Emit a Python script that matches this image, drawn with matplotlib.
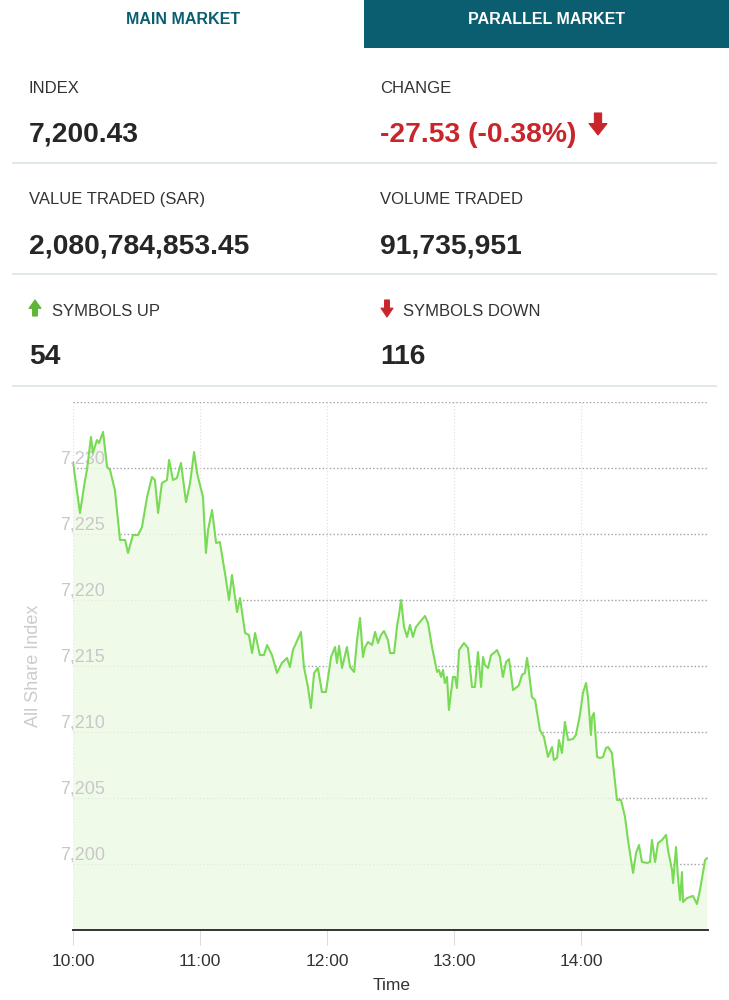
import matplotlib
matplotlib.use("Agg")
import matplotlib.pyplot as plt
from matplotlib.patches import Polygon, Rectangle
from matplotlib.lines import Line2D
import matplotlib.transforms as mtransforms

plt.rcParams['font.family'] = ['Liberation Sans', 'DejaVu Sans']

# ---------------- data ----------------
tabs = ["MAIN MARKET", "PARALLEL MARKET"]
stat_labels = ["INDEX", "CHANGE", "VALUE TRADED (SAR)", "VOLUME TRADED", "SYMBOLS UP", "SYMBOLS DOWN"]
stat_values = ["7,200.43", "-27.53 (-0.38%)", "2,080,784,853.45", "91,735,951", "54", "116"]

# minutes after 10:00
times_min = [0, 3.3, 5.7, 6.6, 8.5, 9.4, 11.3, 12.3, 14.2, 16.1,
             17.5, 19.8, 22.2, 24.6, 26.0, 28.3, 30.7, 32.6, 35.0, 37.3,
             38.7, 40.2, 42.0, 44.4, 45.4, 47.2, 49.1, 51.0, 53.4, 55.3,
             57.2, 58.6, 61.4, 62.8, 63.8, 65.7, 67.6, 69.4, 72.3, 73.7,
             75.1, 77.5, 78.9, 81.3, 83.1, 84.6, 86.0, 88.3, 90.2, 91.7,
             94.0, 96.4, 98.7, 101.1, 102.5, 103.9, 105.4, 107.7, 109.1, 111.0,
             112.4, 113.9, 115.7, 117.6, 119.5, 121.9, 123.8, 124.7, 125.7, 127.1,
             129.4, 130.9, 132.8, 134.2, 135.6, 137.0, 138.0, 139.4, 141.3, 142.7,
             144.1, 145.5, 146.9, 148.8, 149.8, 151.7, 153.1, 154.0, 155.0, 156.4,
             157.8, 159.2, 160.6, 162.0, 163.9, 166.3, 167.7, 169.6, 172.0, 172.9,
             173.9, 174.8, 175.7, 176.7, 177.6, 179.5, 180.5, 181.4, 182.4, 184.7,
             186.6, 188.5, 189.9, 191.3, 192.8, 193.7, 194.6, 196.1, 197.5, 199.4,
             200.3, 201.7, 203.1, 204.6, 206.0, 207.9, 209.8, 210.7, 212.1, 213.5,
             214.5, 215.4, 216.8, 218.3, 220.6, 222.5, 224.4, 226.3, 227.2, 228.7,
             229.6, 231.0, 232.4, 233.9, 236.2, 237.6, 239.5, 240.9, 242.4, 243.3,
             244.7, 245.2, 246.1, 247.6, 249.0, 250.4, 251.8, 252.8, 254.6, 255.6,
             257.0, 258.9, 260.8, 262.2, 264.6, 266.0, 267.4, 268.8, 271.2, 272.6,
             273.5, 275.0, 276.4, 278.3, 280.2, 281.1, 283.0, 283.5, 284.9, 285.8,
             286.8, 287.7, 288.2, 290.1, 292.9, 294.8, 296.2, 297.6, 298.6, 299.5]

index_values = [7230.45, 7226.59, 7229.09, 7229.85, 7232.35, 7231.14, 7232.12, 7231.89, 7232.73, 7230.08,
                7229.85, 7228.33, 7224.55, 7224.55, 7223.56, 7224.92, 7224.92, 7225.53, 7227.80, 7229.32,
                7229.09, 7226.59, 7228.86, 7229.09, 7230.61, 7229.09, 7229.24, 7230.38, 7227.42, 7228.86,
                7231.21, 7229.62, 7227.80, 7223.56, 7225.30, 7226.82, 7224.32, 7224.39, 7221.52, 7220.00,
                7221.89, 7219.09, 7220.15, 7217.50, 7217.35, 7215.98, 7217.50, 7215.83, 7215.83, 7216.59,
                7215.83, 7214.47, 7215.23, 7215.61, 7214.92, 7216.21, 7216.74, 7217.58, 7214.92, 7213.41,
                7211.82, 7214.47, 7214.85, 7213.03, 7213.03, 7215.68, 7216.44, 7215.23, 7216.52, 7214.85,
                7216.44, 7214.92, 7214.55, 7216.97, 7218.64, 7215.68, 7216.44, 7216.82, 7216.59, 7217.58,
                7216.74, 7217.35, 7217.65, 7216.97, 7215.98, 7215.98, 7218.03, 7218.86, 7220.00, 7217.95,
                7217.20, 7218.11, 7217.20, 7217.95, 7218.33, 7218.79, 7218.26, 7216.44, 7214.55, 7214.70,
                7214.17, 7214.70, 7213.71, 7214.17, 7211.67, 7214.17, 7214.17, 7213.33, 7216.21, 7216.74,
                7216.36, 7213.41, 7213.41, 7216.06, 7213.41, 7215.68, 7215.08, 7214.85, 7215.83, 7216.06,
                7216.21, 7215.68, 7214.17, 7215.30, 7215.53, 7213.18, 7213.41, 7213.56, 7214.32, 7214.47,
                7215.61, 7214.55, 7212.65, 7212.42, 7210.15, 7209.62, 7208.11, 7208.86, 7207.88, 7208.03,
                7209.39, 7208.41, 7210.76, 7209.39, 7209.47, 7209.77, 7211.29, 7212.95, 7213.71, 7212.65,
                7209.77, 7211.14, 7211.44, 7208.11, 7208.03, 7208.11, 7208.79, 7208.86, 7208.41, 7206.89,
                7204.85, 7204.85, 7203.56, 7201.82, 7199.32, 7200.83, 7201.44, 7200.15, 7200.08, 7200.15,
                7201.82, 7200.15, 7201.59, 7201.82, 7202.20, 7201.06, 7199.55, 7198.56, 7201.29, 7199.02,
                7197.27, 7199.39, 7197.12, 7197.42, 7197.58, 7196.97, 7198.03, 7199.32, 7200.30, 7200.43]

x_ticks = [0, 60, 120, 180, 240]
x_tick_labels = ["10:00", "11:00", "12:00", "13:00", "14:00"]
y_ticks = [7200, 7205, 7210, 7215, 7220, 7225, 7230]
y_tick_labels = ["7,200", "7,205", "7,210", "7,215", "7,220", "7,225", "7,230"]

# ---------------- figure ----------------
W, H = 729, 1000
fig = plt.figure(figsize=(W / 100, H / 100), dpi=100)
fig.patch.set_facecolor("white")


def fx(px):
    return px / W


def fy(py):
    return 1 - py / H


TEAL = "#0b5e70"
DARK = "#262626"
RED = "#c9262c"
GREEN = "#5db634"

# tabs
fig.patches.append(Rectangle((fx(364), fy(48)), fx(729) - fx(364), fy(0) - fy(48),
                             transform=fig.transFigure, facecolor=TEAL, edgecolor="none", zorder=0))
fig.text(fx(183), fy(19), tabs[0], ha="center", va="center", fontsize=11.5,
         fontweight="bold", color=TEAL)
fig.text(fx(547), fy(19), tabs[1], ha="center", va="center", fontsize=11.5,
         fontweight="bold", color="white")

# stats grid
row_label_base = [93, 204, 316]
row_value_base = [142, 253, 364]
sep_y = [163, 274, 386]
col_x = [29, 380]
for r in range(3):
    for c in range(2):
        i = r * 2 + c
        lx = col_x[c]
        if r == 2:
            lx = col_x[c] + 23
        fig.text(fx(lx), fy(row_label_base[r]), stat_labels[i], ha="left", va="baseline",
                 fontsize=12, color="#333333")
        col = RED if i == 1 else DARK
        fig.text(fx(col_x[c]), fy(row_value_base[r]), stat_values[i], ha="left", va="baseline",
                 fontsize=20.3, fontweight="bold", color=col)
    fig.lines.append(Line2D([fx(13), fx(716)], [fy(sep_y[r]), fy(sep_y[r])],
                            transform=fig.transFigure, color="#dde6e8", lw=1.3))


def arrow(x0, x1, y0, y1, up, color):
    # x0..x1 width, y0 top .. y1 bottom in pixels
    w = x1 - x0
    cx = (x0 + x1) / 2
    sw = w * 0.2
    if up:
        hy = y0 + (y1 - y0) * 0.52
        pts = [(cx, y0), (x1, hy), (cx + sw, hy), (cx + sw, y1), (cx - sw, y1), (cx - sw, hy), (x0, hy)]
    else:
        hy = y1 - (y1 - y0) * 0.52
        pts = [(cx, y1), (x1, hy), (cx + sw, hy), (cx + sw, y0), (cx - sw, y0), (cx - sw, hy), (x0, hy)]
    pts = [(fx(a), fy(b)) for a, b in pts]
    fig.patches.append(Polygon(pts, closed=True, transform=fig.transFigure,
                               facecolor=color, edgecolor=color, lw=0.8, joinstyle="round"))


arrow(29, 41, 300, 316, True, GREEN)
arrow(381, 393, 300, 317, False, RED)
arrow(589, 607, 113, 135, False, RED)

# ---------------- chart ----------------
left, right, top, bottom = 73, 708, 402, 930
ax = fig.add_axes([fx(left), fy(bottom), fx(right) - fx(left), fy(top) - fy(bottom)])
ax.set_xlim(0, 300)
ax.set_ylim(7195, 7235)
ax.set_facecolor("none")

for s in ["top", "right", "left"]:
    ax.spines[s].set_visible(False)
ax.spines["bottom"].set_color("#333333")
ax.spines["bottom"].set_linewidth(1.4)
ax.spines["bottom"].set_zorder(6)

# grid
for v in y_ticks + [7235]:
    ax.axhline(v, color="#a0a0a0", lw=1.0, ls=(0, (1, 1.6)), zorder=1)
for t in x_ticks:
    ax.axvline(t, color="#e2e2e2", lw=0.9, ls=(0, (1, 1.6)), zorder=1)

ax.fill_between(times_min, index_values, 7195, color="#eefae6", alpha=0.85, zorder=2, lw=0)
ax.plot(times_min, index_values, color="#78da55", lw=1.5, zorder=5, solid_joinstyle="round")

# y tick labels inside plot
ax.set_yticks([])
trans = mtransforms.blended_transform_factory(ax.transAxes, ax.transData) + \
    mtransforms.ScaledTranslation(0, 4 / 100, fig.dpi_scale_trans)
for v, lab in zip(y_ticks, y_tick_labels):
    ax.text(32 / (right - left), v, lab, transform=trans, ha="right", va="baseline",
            fontsize=13, color="#c8c8c8", zorder=3)

ax.set_xticks(x_ticks)
ax.set_xticklabels(x_tick_labels, fontsize=12.5, color="#333333")
ax.tick_params(axis="x", length=11, width=0.8, color="#dddddd", pad=6)

fig.text(fx(392), fy(990), "Time", ha="center", va="baseline", fontsize=12.5, color="#333333")
fig.text(fx(34), fy(666), "All Share Index", ha="center", va="center", rotation=90,
         fontsize=13, color="#cccccc")

fig.savefig("out.png", dpi=100, facecolor="white")
